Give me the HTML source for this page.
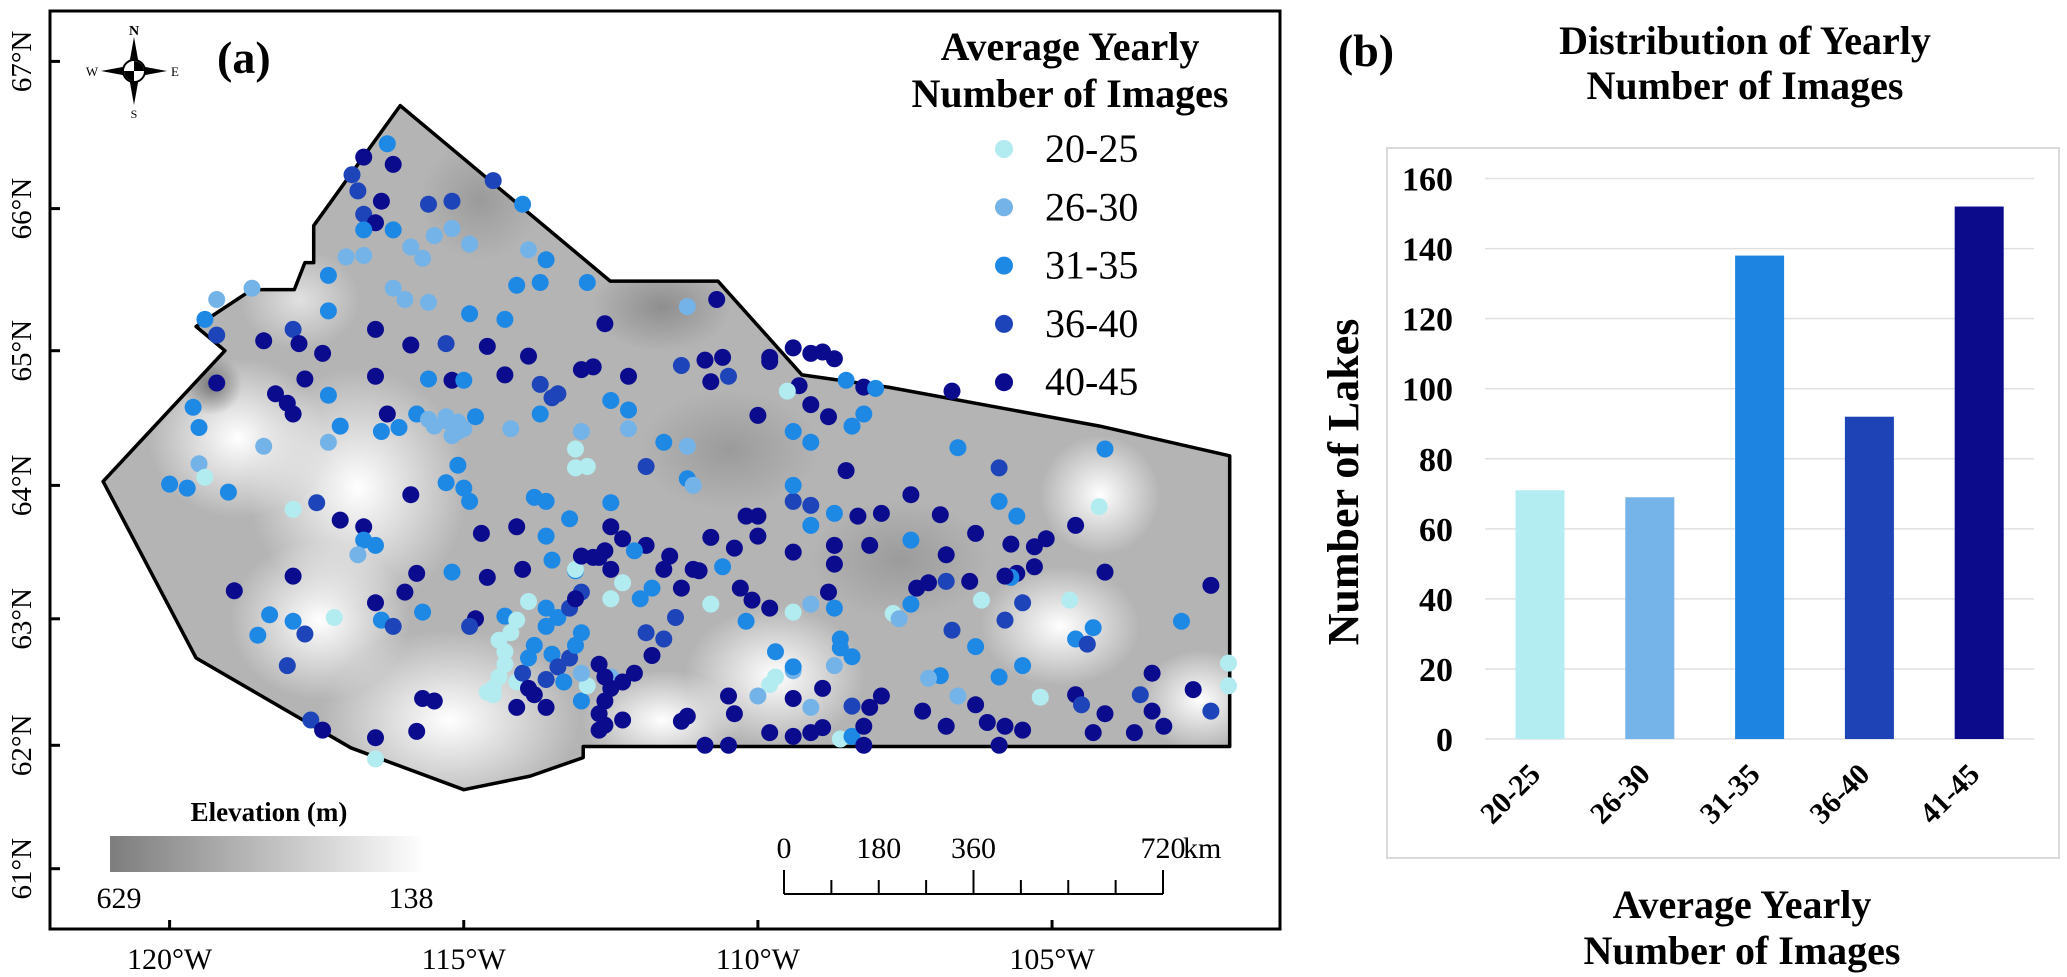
<!DOCTYPE html>
<html><head><meta charset="utf-8"><style>
html,body{margin:0;padding:0;background:#fff}
svg{display:block}
text{font-family:"Liberation Serif",serif}
</style></head><body>
<svg id="fig" width="2067" height="977" viewBox="0 0 2067 977" xmlns="http://www.w3.org/2000/svg">
<defs>
<clipPath id="mapclip"><polygon id="clipPoly" points=""/></clipPath>
<radialGradient id="wh"><stop offset="0" stop-color="#fff" stop-opacity="1"/><stop offset="1" stop-color="#fff" stop-opacity="0"/></radialGradient>
<radialGradient id="dk"><stop offset="0" stop-color="#6e6e6e" stop-opacity="0.9"/><stop offset="1" stop-color="#6e6e6e" stop-opacity="0"/></radialGradient>
<linearGradient id="elev" x1="0" x2="1"><stop offset="0" stop-color="#7d7d7d"/><stop offset="1" stop-color="#fdfdfd"/></linearGradient>
</defs>
<g id="mapPanel">
<rect x="50" y="11" width="1230" height="918" fill="#fff" stroke="#000" stroke-width="3"/>
<g id="mapBg" clip-path="url(#mapclip)">
<rect x="50" y="11" width="1230" height="918" fill="#b4b4b4"/>
<ellipse cx="358" cy="488" rx="110" ry="120" fill="url(#wh)"/>
<ellipse cx="450" cy="720" rx="130" ry="90" fill="url(#wh)"/>
<ellipse cx="320" cy="620" rx="90" ry="80" fill="url(#wh)"/>
<ellipse cx="775" cy="676" rx="90" ry="70" fill="url(#wh)"/>
<ellipse cx="1100" cy="495" rx="60" ry="60" fill="url(#wh)"/>
<ellipse cx="238" cy="438" rx="90" ry="80" fill="url(#wh)"/>
<ellipse cx="662" cy="720" rx="80" ry="50" fill="url(#wh)"/>
<ellipse cx="1060" cy="626" rx="80" ry="60" fill="url(#wh)"/>
<ellipse cx="1200" cy="700" rx="60" ry="50" fill="url(#wh)"/>
<ellipse cx="300" cy="300" rx="60" ry="50" fill="url(#wh)" opacity="0.6"/>
<ellipse cx="212" cy="385" rx="30" ry="30" fill="url(#dk)"/>
<ellipse cx="662" cy="307" rx="70" ry="45" fill="url(#dk)" opacity="0.6"/>
<ellipse cx="729" cy="450" rx="90" ry="60" fill="url(#dk)" opacity="0.4"/>
<ellipse cx="900" cy="560" rx="90" ry="60" fill="url(#dk)" opacity="0.4"/>
<ellipse cx="480" cy="200" rx="60" ry="60" fill="url(#dk)" opacity="0.4"/>
</g>
<polygon id="outline" points="" fill="none" stroke="#000" stroke-width="3.5" stroke-linejoin="round"/>
<g id="ticks"></g>
<g id="lakes"></g>
<g>
<polygon points="134,37 139,65 134,71 129,65" fill="#000"/>
<polygon points="134,105 139,77 134,71 129,77" fill="#000"/>
<polygon points="101,71 128,66 134,71 128,76" fill="#000"/>
<polygon points="167,71 140,66 134,71 140,76" fill="#000"/>
<circle cx="134" cy="71" r="11" fill="#fff" stroke="#000" stroke-width="2"/>
<path d="M134,71 L134,61 A10,10 0 0 1 144,71 Z" fill="#000"/>
<path d="M134,71 L134,81 A10,10 0 0 1 124,71 Z" fill="#000"/>
<text x="134" y="35" font-size="14" font-weight="bold" text-anchor="middle">N</text>
<text x="134" y="118" font-size="12" text-anchor="middle">S</text>
<text x="92" y="76" font-size="13" text-anchor="middle">W</text>
<text x="175" y="76" font-size="13" text-anchor="middle">E</text>
</g>
<text x="217" y="73" font-size="46" font-weight="bold">(a)</text>
<g>
<text x="1070" y="60" font-size="40" font-weight="bold" text-anchor="middle">Average Yearly</text>
<text x="1070" y="107" font-size="40" font-weight="bold" text-anchor="middle">Number of Images</text>
<g id="legendEntries"></g>
</g>
<g>
<text x="269" y="821" font-size="27" font-weight="bold" text-anchor="middle">Elevation (m)</text>
<rect x="110" y="836" width="311" height="36" fill="url(#elev)"/>
<text x="119" y="908" font-size="30" text-anchor="middle">629</text>
<text x="411" y="908" font-size="30" text-anchor="middle">138</text>
</g>
<g id="scalebar"></g>
</g>

<g id="barPanel">
<text x="1366" y="66" font-size="46" font-weight="bold" text-anchor="middle">(b)</text>
<text x="1745" y="54" font-size="40" font-weight="bold" text-anchor="middle">Distribution of Yearly</text>
<text x="1745" y="99" font-size="40" font-weight="bold" text-anchor="middle">Number of Images</text>
<rect x="1387" y="148" width="672" height="710" fill="#fff" stroke="#d9d9d9" stroke-width="2"/>
<g id="grid"></g>
<g id="bars"></g>
<g id="xlabels"></g>
<text transform="translate(1358,482) rotate(-90)" font-size="44" font-weight="bold" text-anchor="middle">Number of Lakes</text>
<text x="1742" y="918" font-size="40" font-weight="bold" text-anchor="middle">Average Yearly</text>
<text x="1742" y="964" font-size="40" font-weight="bold" text-anchor="middle">Number of Images</text>
</g>
</svg>
<script>
// ---------- Bar chart data ----------
const barCategories = ["20-25","26-30","31-35","36-40","41-45"];
const barValues = [71, 69, 138, 92, 152];
const barColors = ["#b3ecf1","#74b4e8","#1e84e2","#1d43b6","#0b0b8c"];
const yTicks = [0,20,40,60,80,100,120,140,160];

// ---------- Map data ----------
const latTicks = [67,66,65,64,63,62,61];
const lonTicks = [120,115,110,105];
const legendLabels = ["20-25","26-30","31-35","36-40","40-45"];
const classColors = ["#b2ecf0","#74b3e8","#1e88e5","#1d44b8","#0b0b8e"];
const scaleLabels = ["0","180","360","720"];
const boundaryLon = [121.13,119.06,119.55,118.6,117.88,117.7,117.55,117.55,116.08,112.51,110.68,109.25,107.79,104.19,101.98,101.98,112.97,112.97,113.87,115.0,116.92,119.55];
const boundaryLat = [64.03,65.0,65.17,65.43,65.43,65.62,65.62,65.88,66.70,65.49,65.49,64.82,64.73,64.44,64.22,61.99,61.99,61.90,61.75,61.64,61.98,62.69];
const lakeLon = [
116.3,116.7,116.2,116.9,114.5,116.8,116.4,115.6,115.2,114.0,116.7,116.5,116.7,116.2,115.5,115.2,114.9,115.9,115.7,117.0,
116.7,113.9,113.6,114.1,113.7,112.9,117.3,116.2,116.0,115.6,111.2,110.7,112.6,114.3,114.9,116.5,117.3,117.9,118.6,119.2,
119.4,119.2,118.4,117.8,117.4,115.9,115.3,114.6,113.9,113.0,112.8,112.2,114.3,113.7,113.4,115.6,115.2,115.0,116.5,117.7,
117.3,118.2,118.0,117.9,119.2,119.6,119.5,118.4,117.3,117.1,116.3,116.4,116.1,115.8,115.6,115.3,115.1,114.8,114.2,113.7,
113.5,113.0,113.1,112.9,113.1,112.5,112.2,112.2,111.6,111.2,111.9,111.2,111.1,119.5,119.4,120.0,119.7,119.0,117.9,117.5,
117.1,116.7,116.7,116.8,116.5,115.9,115.1,115.3,115.0,114.9,114.7,114.1,113.6,113.2,113.6,113.8,112.5,112.5,112.3,111.9,
112.1,112.6,112.5,112.8,113.1,111.5,111.0,110.6,110.8,110.4,110.0,110.0,110.2,109.4,109.4,109.1,109.4,109.1,108.7,108.7,
108.7,108.3,107.9,107.4,106.9,108.1,107.4,106.8,106.3,105.9,105.9,105.6,105.7,105.3,105.1,105.3,105.6,105.7,104.1,104.6,
104.2,104.1,106.6,106.7,108.5,108.2,109.3,109.1,110.0,109.5,108.0,108.2,109.4,108.8,108.4,109.1,108.5,109.4,109.1,108.9,
108.7,109.8,109.8,110.9,110.5,110.8,110.6,111.3,
118.9,117.9,118.5,118.3,117.9,117.7,118.0,117.2,116.5,116.4,116.2,116.0,115.8,115.7,115.2,114.6,114.8,114.9,114.3,113.9,
114.0,113.5,113.1,113.0,113.0,112.7,112.3,112.5,112.0,111.8,111.6,111.3,111.4,111.9,111.6,111.8,112.1,112.5,111.1,110.8,
110.3,110.1,109.8,109.4,109.1,108.8,108.7,110.2,109.7,109.4,109.7,109.8,110.0,110.5,110.4,110.9,110.5,111.2,111.3,109.4,
109.4,108.9,109.8,109.4,109.1,108.9,108.6,108.4,108.2,108.1,108.2,108.4,107.9,107.7,107.6,107.4,107.3,107.1,106.8,106.4,
106.2,105.8,105.5,105.8,106.7,106.3,105.9,105.5,106.9,106.6,107.2,106.8,106.3,106.1,105.8,105.5,105.9,105.2,104.7,104.6,
104.3,104.4,104.6,104.5,104.1,104.3,103.6,103.5,103.3,103.1,103.3,102.8,102.6,102.3,102.3,102.0,102.0,117.6,117.4,116.5,
116.5,115.8,115.7,115.5,108.4,108.6,108.6,108.7,109.1,107.1,
114.5,114.4,114.3,114.3,114.4,114.2,114.1,114.5,114.6,114.1,114.0,113.9,113.8,113.6,113.4,113.5,113.4,113.2,113.1,113.0,
113.3,113.6,113.9,113.8,114.1,113.6,113.0,112.9,113.0,112.7,112.6,112.5,112.3,112.6,112.7,112.6,112.3,112.7,113.6,113.2,
113.1,115.5,115.2,115.3,115.1,115.0];
const lakeLat = [
66.44,66.35,66.30,66.23,66.19,66.12,66.05,66.03,66.05,66.03,65.96,65.90,65.85,65.85,65.81,65.86,65.75,65.73,65.65,65.66,
65.67,65.71,65.64,65.46,65.48,65.48,65.53,65.44,65.36,65.34,65.31,65.36,65.19,65.22,65.26,65.15,65.28,65.15,65.44,65.36,
65.22,65.11,65.07,65.05,64.98,65.04,65.05,65.03,64.96,64.86,64.88,64.81,64.82,64.75,64.68,64.79,64.78,64.78,64.81,64.79,
64.67,64.68,64.61,64.53,64.76,64.58,64.43,64.29,64.32,64.44,64.53,64.40,64.43,64.53,64.49,64.48,64.40,64.51,64.42,64.53,
64.65,64.40,64.27,64.14,64.13,64.63,64.56,64.42,64.32,64.29,64.14,64.05,64.00,64.16,64.06,64.01,63.98,63.95,63.82,63.87,
63.74,63.69,63.59,63.48,63.55,63.93,64.15,64.02,63.98,63.88,63.64,63.69,63.62,63.75,63.88,63.91,63.87,63.69,63.60,63.55,
63.51,63.51,63.37,63.46,63.36,63.47,63.36,63.39,63.61,63.53,63.77,63.62,63.77,63.88,64.00,63.85,63.50,63.70,63.55,63.41,
63.79,63.77,63.79,63.93,63.78,63.55,63.59,63.48,63.64,63.88,64.13,63.77,63.56,63.54,63.60,63.39,63.34,63.31,63.35,63.70,
63.84,64.27,64.28,64.70,64.78,64.73,64.74,64.60,64.52,64.70,64.72,64.53,64.40,64.51,64.44,64.32,64.11,65.02,64.98,64.99,
64.94,64.95,64.92,64.93,64.81,64.77,64.95,64.89,
63.21,63.32,62.87,63.03,62.98,62.88,62.63,63.01,63.12,62.99,62.94,63.20,63.34,63.05,63.35,63.31,63.00,62.94,63.02,63.13,
63.37,63.44,63.37,63.47,63.20,63.46,63.27,63.15,63.15,63.23,63.37,63.23,63.01,62.89,62.84,62.71,62.57,62.54,63.37,63.11,
63.23,63.14,63.08,63.05,63.11,63.20,63.08,62.98,62.74,62.59,62.54,62.48,62.39,62.39,62.25,62.00,62.00,62.23,62.19,62.62,
62.37,62.45,62.10,62.07,62.10,62.14,62.05,62.07,62.15,62.30,62.00,62.31,62.39,63.04,63.00,63.11,63.23,63.27,63.28,63.28,
63.14,62.99,63.12,63.32,62.91,62.78,62.54,62.63,62.55,62.39,62.27,62.15,62.32,62.18,62.15,62.12,62.00,62.38,63.14,62.84,
62.93,62.80,62.40,62.32,62.25,62.10,62.10,62.40,62.27,62.15,62.57,62.98,62.44,62.27,63.25,62.65,62.47,62.20,62.12,62.06,
61.89,62.11,62.37,62.35,62.70,62.77,62.84,62.63,62.30,62.53,
62.45,62.54,62.64,62.74,62.83,62.89,62.99,62.40,62.42,62.50,62.57,62.69,62.79,62.94,63.01,62.72,62.62,62.69,62.79,62.89,
62.50,62.52,62.45,62.40,62.30,62.30,62.35,62.47,62.57,62.64,62.54,62.45,62.50,62.35,62.25,62.16,62.20,62.12,63.08,63.08,
63.15,64.44,64.37,64.51,64.47,64.42];
const lakeCls = [
2,4,4,3,3,3,4,3,3,2,3,4,2,2,1,1,1,1,1,1,
1,1,2,2,2,2,2,1,1,1,1,4,4,2,2,4,2,3,1,1,
2,3,4,4,4,4,3,4,4,4,4,4,4,3,3,2,4,2,4,4,
2,4,4,4,4,2,2,1,1,2,4,2,2,2,1,1,1,2,1,2,
3,1,0,0,0,2,2,1,2,1,3,2,1,1,0,2,2,2,0,3,
4,4,2,1,2,4,2,2,2,2,4,4,2,2,2,2,2,4,4,4,
2,4,4,4,2,4,4,2,4,4,4,4,4,3,2,3,4,2,4,4,
2,4,4,4,4,4,2,4,4,2,3,2,4,4,4,4,4,2,4,4,
0,2,2,4,2,4,4,4,4,0,2,2,2,4,2,2,4,4,4,4,
4,4,4,4,3,4,4,3,
4,4,2,2,2,3,3,0,4,2,3,4,4,2,2,4,4,3,2,0,
4,2,0,4,3,4,0,0,2,2,4,4,3,3,3,4,4,1,4,0,
4,4,4,0,1,4,2,2,2,1,0,0,1,4,4,4,4,4,4,2,
4,4,4,4,4,4,0,2,4,4,4,3,4,0,1,2,4,4,3,4,
0,3,3,4,3,2,2,2,2,1,4,4,4,4,4,4,4,0,0,2,
2,3,4,3,4,4,4,3,4,4,4,2,4,3,4,0,0,3,4,4,
0,4,4,4,2,2,2,1,1,1,
0,0,0,0,0,0,0,0,0,0,3,2,2,2,2,2,3,3,2,2,
2,3,4,4,4,4,2,0,1,4,4,4,4,4,4,4,4,4,2,3,
4,1,1,1,1,1];

const NS = "http://www.w3.org/2000/svg";
function mk(tag, attrs, parent){const e=document.createElementNS(NS,tag);for(const k in attrs)e.setAttribute(k,attrs[k]);parent.appendChild(e);return e;}

// map axes
const latPix = [61.4,208.6,350.7,485.4,618.8,745.3,868.7];
function xLon(lonW){return 169.6 + (120 - lonW) * 58.83;}
function yLat(lat){
  for(let i=0;i<latTicks.length-1;i++){
    const a=latTicks[i], b=latTicks[i+1];
    if(lat<=a && lat>=b || i===latTicks.length-2 || (i===0 && lat>a)){
      return latPix[i] + (a-lat)/(a-b)*(latPix[i+1]-latPix[i]);
    }
  }
}
const pts = boundaryLon.map((lo,i)=>xLon(lo).toFixed(1)+","+yLat(boundaryLat[i]).toFixed(1)).join(" ");
document.getElementById("outline").setAttribute("points", pts);
document.getElementById("clipPoly").setAttribute("points", pts);

const tg = document.getElementById("ticks");
latTicks.forEach((v,i)=>{
  const y=yLat(v);
  mk("line",{x1:50,x2:60,y1:y,y2:y,stroke:"#000","stroke-width":3},tg);
  const t=mk("text",{transform:`translate(31,${y}) rotate(-90)`,"font-size":29,"text-anchor":"middle"},tg);
  t.textContent=v+"°N";
  
  
});
lonTicks.forEach(v=>{
  const x=xLon(v);
  mk("line",{x1:x,x2:x,y1:929,y2:920,stroke:"#000","stroke-width":3},tg);
  const t=mk("text",{x:x,y:969,"font-size":30,"text-anchor":"middle"},tg);
  t.textContent=v+"°W";
  
  
});

const lg = document.getElementById("lakes");
lakeLon.forEach((lo,i)=>{
  const c=mk("circle",{cx:xLon(lo).toFixed(1),cy:yLat(lakeLat[i]).toFixed(1),r:8.5,fill:classColors[lakeCls[i]]},lg);
  
  
});

const le = document.getElementById("legendEntries");
legendLabels.forEach((lab,i)=>{
  const y=149+i*58.3;
  const c=mk("circle",{cx:1004,cy:y,r:9,fill:classColors[i]},le);
  
  
  const t=mk("text",{x:1045,y:y+13,"font-size":40},le);
  t.textContent=lab;
  
  
});

// scale bar
const sb=document.getElementById("scalebar");
const sbX0=784, sbX1=1163, sbY=894;
mk("line",{x1:sbX0,x2:sbX1,y1:sbY,y2:sbY,stroke:"#000","stroke-width":2},sb);
for(let i=0;i<=8;i++){const x=sbX0+(sbX1-sbX0)*i/8;mk("line",{x1:x,x2:x,y1:sbY,y2:(i%4===0?870:880),stroke:"#000","stroke-width":2},sb);}
scaleLabels.forEach(l=>{
  const x=sbX0+(sbX1-sbX0)*(+l)/720;
  const t=mk("text",{x:x,y:858,"font-size":30,"text-anchor":"middle"},sb);
  t.textContent=l;
  
  
});
const km=mk("text",{x:1183,y:858,"font-size":30},sb);km.textContent="km";



// bar chart axes
const yMin=0,yMax=160,pyBottom=739,pyTop=178.5;
function yVal(v){return pyBottom-(v-yMin)/(yMax-yMin)*(pyBottom-pyTop);}
const bx0=1485, bStep=109.8;
function xCat(i){return 1540+i*bStep;}
const gg=document.getElementById("grid");
yTicks.forEach(v=>{
  const y=yVal(v);
  const l=mk("line",{x1:bx0,x2:2034,y1:y,y2:y,stroke:"#e0e0e0","stroke-width":1.5},gg);
  
  
  const t=mk("text",{x:1453,y:y+12,"font-size":34,"font-weight":"bold","text-anchor":"end"},gg);
  t.textContent=v;
  
  
});
const bg=document.getElementById("bars");
barValues.forEach((v,i)=>{
  const r=mk("rect",{x:xCat(i)-24.5,y:yVal(v),width:49,height:yVal(0)-yVal(v),fill:barColors[i]},bg);
  
  
});
const xl=document.getElementById("xlabels");
barCategories.forEach((c,i)=>{
  const t=mk("text",{transform:`translate(${xCat(i)+2},776) rotate(-45)`,"font-size":30,"font-weight":"bold","text-anchor":"end"},xl);
  t.textContent=c;
  
  
});
</script>
</body></html>
